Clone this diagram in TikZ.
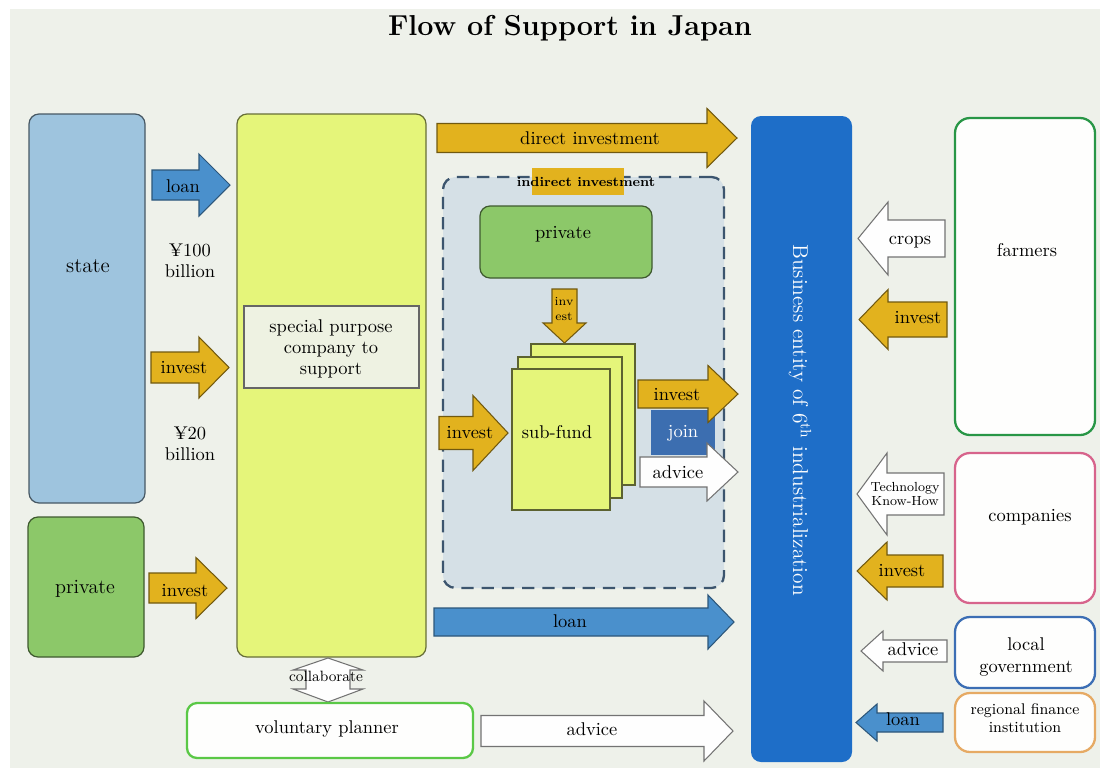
\documentclass[tikz,border=0pt]{standalone}
\usepackage{fontspec}
\usepackage{tikz}
\usetikzlibrary{arrows,positioning,fit}

\definecolor{paper}{RGB}{238,241,234}
\definecolor{stateblue}{RGB}{158,196,222}
\definecolor{privgreen}{RGB}{140,200,105}
\definecolor{spcyellow}{RGB}{229,245,122}
\definecolor{innerbox}{RGB}{238,242,226}
\definecolor{arrblue}{RGB}{74,144,204}
\definecolor{gold}{RGB}{226,178,30}
\definecolor{fundbox}{RGB}{213,224,230}
\definecolor{fundline}{RGB}{60,85,110}
\definecolor{joinblue}{RGB}{60,110,176}
\definecolor{bizblue}{RGB}{30,110,200}
\definecolor{farmgreen}{RGB}{40,150,70}
\definecolor{comppink}{RGB}{215,100,140}
\definecolor{govblue}{RGB}{60,110,180}
\definecolor{finorange}{RGB}{230,170,100}
\definecolor{planngreen}{RGB}{90,200,70}

% fat arrow: [style]{tail x}{head base x}{tip x}{centre y}{body half}{head half}
\newcommand{\fatarrow}[7][]{%
  \draw[#1] (#2,#5-#6) -- (#3,#5-#6) -- (#3,#5-#7) -- (#4,#5)
    -- (#3,#5+#7) -- (#3,#5+#6) -- (#2,#5+#6) -- cycle;}

\begin{document}
\begin{tikzpicture}[x={(0.02cm,0)},y={(0,-0.02cm)},
    every node/.style={font=\fontsize{10.5}{12}\selectfont,inner sep=0pt,align=center},
    line join=miter]
  \tikzstyle{box}=[draw,line width=0.7pt,rounded corners=2mm]
  \tikzstyle{frame}=[draw,line width=1.3pt,rounded corners=3mm,fill=white!92!paper]
  \tikzstyle{arr}=[line width=0.6pt]
  \tikzstyle{bluearr}=[arr,fill=arrblue,draw=arrblue!60!black]
  \tikzstyle{goldarr}=[arr,fill=gold,draw=gold!50!black]
  \tikzstyle{whitearr}=[arr,fill=white!96!paper,draw=black!55]
  \tikzstyle{paperbox}=[draw=spcyellow!40!black,line width=0.6pt,fill=spcyellow]
  \tikzstyle{small}=[font=\fontsize{7.5}{8.5}\selectfont]

  \useasboundingbox (0,0) rectangle (1105,771);
  \fill[white] (0,0) rectangle (1105,771);
  \fill[paper] (10,9) rectangle (1100,768);

  \node[font=\bfseries\fontsize{16.4}{19}\selectfont] (title) at (570,28) {Flow of Support in Japan};

  % left column
  \node[box,fill=stateblue,draw=stateblue!45!black,fit={(29,114) (145,503)}] (state) {};
  \node[font=\fontsize{12}{14}\selectfont] (statetxt) at (88,266) {state};
  \node[box,fill=privgreen,draw=privgreen!45!black,fit={(28,517) (144,657)}] (privleft) {};
  \node[font=\fontsize{11.5}{14}\selectfont] (privlefttxt) at (85,589) {private};

  \node[box,fill=spcyellow,draw=spcyellow!45!black,fit={(237,114) (426,657)}] (spc) {};
  \node[draw=black!60,line width=0.6pt,fill=innerbox,fit={(244,306) (419,388)}] (spcbox) {};
  \node (spctxt) at (331,349) {special purpose\\company to\\support};

  \fatarrow[bluearr]{152}{199}{230}{185}{15}{31}
  \node (loanA) at (183,186) {loan};
  \fatarrow[goldarr]{151}{199}{229}{367.5}{15.5}{30.5}
  \node (investA) at (184,368) {invest};
  \fatarrow[goldarr]{149}{196}{227}{588}{15}{30.5}
  \node (investB) at (185,591) {invest};
  \node (yenA) at (190,261) {¥\oldstylenums{100}\\billion};
  \node (yenB) at (190,444) {¥\oldstylenums{20}\\billion};

  % indirect investment area
  \node[draw=fundline,fill=fundbox,line width=1.3pt,dash pattern=on 7pt off 4.5pt,
        rounded corners=2.5mm,fit={(443,177) (724,588)}] (fund) {};
  \fill[gold] (532,168) rectangle (624,195);
  \node[font=\bfseries\fontsize{7.6}{9}\selectfont] (indirect) at (586,182) {indirect\ investment};

  \fatarrow[goldarr]{437}{707}{737}{138}{14.5}{29.5}
  \node (direct) at (590,138) {direct investment};

  \node[box,fill=privgreen,draw=privgreen!45!black,fit={(480,206) (652,278)}] (privmid) {};
  \node (privtxt) at (563,234) {private};

  \draw[goldarr] (552,289) -- (577,289) -- (577,323) -- (586,323) -- (564.5,343)
    -- (543,323) -- (552,323) -- cycle;
  \node[font=\fontsize{7}{8.5}\selectfont] (investC) at (564,309) {inv\\est};

  \node[paperbox,fit={(531,344) (635,485)}] (fundC) {};
  \node[paperbox,fit={(518,357) (622,498)}] (fundB) {};
  \node[paperbox,fit={(512,369) (610,510)}] (fundA) {};
  \node (subfund) at (557,432) {sub-fund};

  \fatarrow[goldarr]{439}{473}{508}{433}{16.5}{37.5}
  \node (investD) at (470,433) {invest};

  \fill[joinblue] (651,410) rectangle (715,455);
  \node[text=white] (join) at (683,433) {join};
  \fatarrow[goldarr]{638}{708}{738}{394}{14}{28.5}
  \node (investE) at (677,395) {invest};
  \fatarrow[whitearr]{640}{707}{738}{472}{15}{29}
  \node (adviceA) at (678,472) {advice};

  \fatarrow[bluearr]{434}{708}{734}{622}{14}{27}
  \node (loanB) at (570,621) {loan};

  % collaborate
  \draw[whitearr] (328,658) -- (363,670) -- (350,670) -- (350,689) -- (363,689)
    -- (328,702) -- (293,689) -- (306,689) -- (306,670) -- (293,670) -- cycle;
  \node[font=\fontsize{8.5}{10}\selectfont] (collab) at (326,676) {collaborate};

  \node[box,draw=planngreen,line width=1.3pt,fill=white!92!paper,fit={(187,703) (473,758)}] (planner) {};
  \node (plannertxt) at (327,729) {voluntary planner};
  \fatarrow[whitearr]{481}{704}{733}{731}{15.5}{30}
  \node (adviceB) at (592,729) {advice};

  % business entity
  \node[fill=bizblue,rounded corners=2mm,fit={(751,116) (852,762)}] (biz) {};
  \node[text=white,rotate=-90,font=\fontsize{12.2}{14}\selectfont] (biztxt) at (800,420)
    {Business entity of 6\textsuperscript{th} industrialization};

  % right column
  \node[frame,draw=farmgreen,fit={(955,118) (1095,435)}] (farmers) {};
  \node (farmtxt) at (1027,250) {farmers};
  \node[frame,draw=comppink,fit={(955,453) (1095,603)}] (companies) {};
  \node (comptxt) at (1030,517) {companies};
  \node[frame,draw=govblue,fit={(955,617) (1095,688)}] (gov) {};
  \node (govtxt) at (1026,657) {local\\government};
  \node[frame,draw=finorange,fit={(955,693) (1095,752)}] (fin) {};
  \node[font=\fontsize{8.8}{10}\selectfont] (fintxt) at (1025,718) {regional finance\\institution};

  \fatarrow[whitearr]{945}{888}{858}{238.5}{18.5}{36.5}
  \node (crops) at (910,242) {crops};
  \fatarrow[goldarr]{947}{888}{859}{319.5}{17.5}{30}
  \node (investF) at (918,318) {invest};
  \fatarrow[whitearr]{944}{887}{857}{494}{21}{41}
  \node[small] (tech) at (905,494) {Technology\\Know-How};
  \fatarrow[goldarr]{943}{887}{857}{571}{16}{29}
  \node (investG) at (902,571) {invest};
  \fatarrow[whitearr]{947}{883}{861}{651}{11}{20}
  \node (adviceC) at (913,649) {advice};
  \fatarrow[bluearr]{943}{877}{856}{722.5}{9.5}{18.5}
  \node (loanC) at (903,719) {loan};
\end{tikzpicture}
\end{document}
